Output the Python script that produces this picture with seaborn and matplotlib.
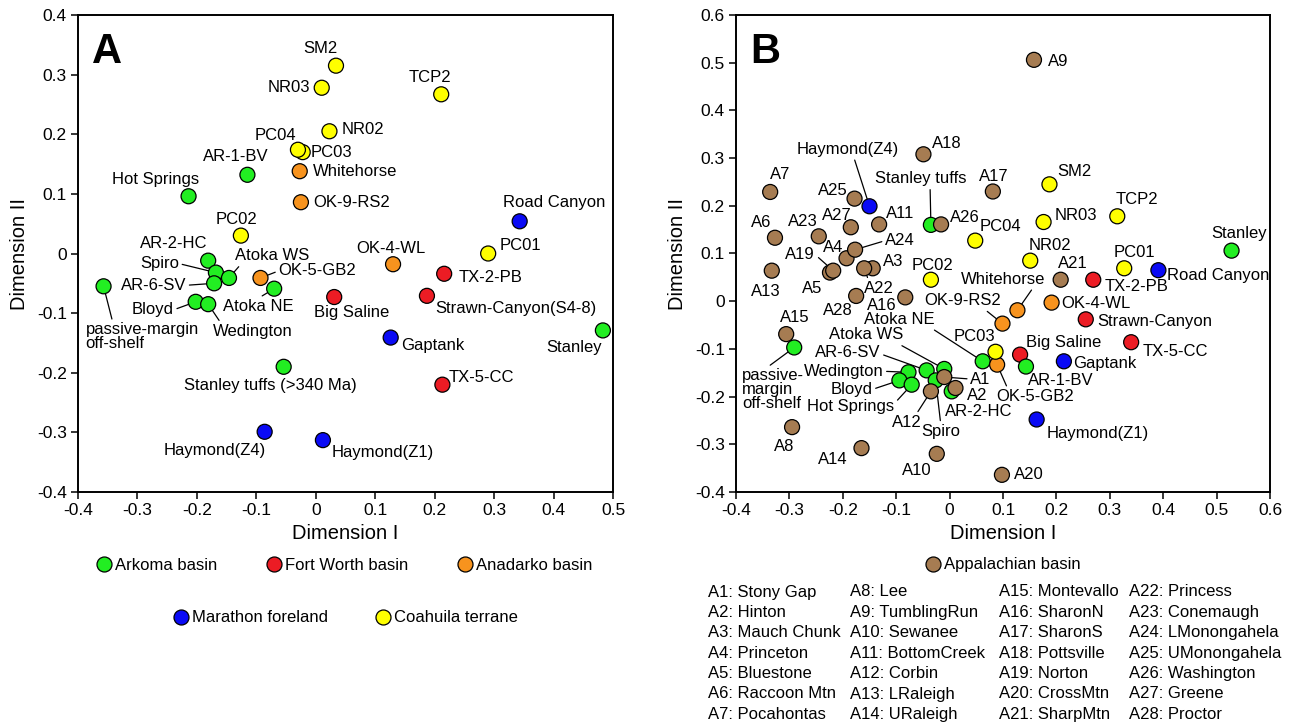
import matplotlib
matplotlib.use("Agg")
import matplotlib.pyplot as plt
import matplotlib.ticker as mticker
from matplotlib.lines import Line2D
import pandas as pd
import seaborn as sns

# ---------------- groups ----------------
group_names = ["Arkoma basin", "Fort Worth basin", "Anadarko basin",
               "Marathon foreland", "Coahuila terrane", "Appalachian basin"]
group_colors = ["#22EE22", "#EC1C24", "#F7931E", "#0A0AF5", "#FFFF00", "#A67C52"]

# ---------------- panel A data ----------------
a_names = ["SM2", "NR03", "TCP2", "NR02", "PC03", "PC04", "Whitehorse", "OK-9-RS2",
           "AR-1-BV", "Hot Springs", "PC02", "Road Canyon", "PC01", "AR-2-HC", "Spiro",
           "Atoka WS", "AR-6-SV", "OK-5-GB2", "Atoka NE", "passive-margin\noff-shelf",
           "Bloyd", "Wedington", "Big Saline", "Stanley tuffs (>340 Ma)", "Haymond(Z4)",
           "Haymond(Z1)", "OK-4-WL", "TX-2-PB", "Strawn-Canyon(S4-8)", "Gaptank",
           "TX-5-CC", "Stanley"]
a_x = [0.034, 0.010, 0.211, 0.023, -0.022, -0.030, -0.027, -0.025,
       -0.115, -0.214, -0.126, 0.343, 0.290, -0.181, -0.168,
       -0.146, -0.171, -0.093, -0.070, -0.357,
       -0.202, -0.181, 0.031, -0.054, -0.086,
       0.012, 0.130, 0.216, 0.187, 0.126,
       0.213, 0.483]
a_y = [0.315, 0.278, 0.267, 0.205, 0.170, 0.174, 0.138, 0.086,
       0.132, 0.096, 0.030, 0.054, 0.000, -0.012, -0.032,
       -0.041, -0.050, -0.041, -0.059, -0.055,
       -0.081, -0.085, -0.073, -0.190, -0.299,
       -0.313, -0.018, -0.034, -0.071, -0.141,
       -0.220, -0.129]
a_group = ["Coahuila terrane", "Coahuila terrane", "Coahuila terrane", "Coahuila terrane",
           "Coahuila terrane", "Coahuila terrane", "Anadarko basin", "Anadarko basin",
           "Arkoma basin", "Arkoma basin", "Coahuila terrane", "Marathon foreland",
           "Coahuila terrane", "Arkoma basin", "Arkoma basin",
           "Arkoma basin", "Arkoma basin", "Anadarko basin", "Arkoma basin", "Arkoma basin",
           "Arkoma basin", "Arkoma basin", "Fort Worth basin", "Arkoma basin",
           "Marathon foreland", "Marathon foreland", "Anadarko basin", "Fort Worth basin",
           "Fort Worth basin", "Marathon foreland", "Fort Worth basin", "Arkoma basin"]

# ---------------- panel B data ----------------
b_names = ["Haymond(Z4)", "Stanley tuffs", "SM2", "NR03", "TCP2", "PC04", "Stanley",
           "PC02", "NR02", "PC01", "Road Canyon", "TX-2-PB", "Whitehorse", "OK-4-WL",
           "OK-9-RS2", "Strawn-Canyon", "TX-5-CC", "Atoka NE", "OK-5-GB2", "PC03",
           "Big Saline", "AR-1-BV", "Gaptank", "Atoka WS", "AR-6-SV", "Wedington",
           "Bloyd", "Hot Springs", "Spiro", "AR-2-HC", "Haymond(Z1)",
           "passive-\nmargin\noff-shelf",
           "A1", "A2", "A3", "A4", "A5", "A6", "A7", "A8", "A9", "A10", "A11", "A12",
           "A13", "A14", "A15", "A16", "A17", "A18", "A19", "A20", "A21", "A22", "A23",
           "A24", "A25", "A26", "A27", "A28"]
b_x = [-0.150, -0.035, 0.187, 0.176, 0.314, 0.048, 0.528,
       -0.035, 0.151, 0.327, 0.391, 0.269, 0.127, 0.191,
       0.099, 0.255, 0.340, 0.062, 0.089, 0.086,
       0.132, 0.143, 0.214, -0.010, -0.043, -0.077,
       -0.094, -0.071, -0.026, 0.004, 0.163,
       -0.291,
       -0.010, 0.011, -0.144, -0.193, -0.224, -0.327, -0.336, -0.295, 0.158, -0.024,
       -0.132, -0.035, -0.333, -0.165, -0.306, -0.083, 0.081, -0.049, -0.218, 0.098,
       0.208, -0.160, -0.245, -0.177, -0.178, -0.016, -0.185, -0.175]
b_y = [0.199, 0.160, 0.245, 0.166, 0.178, 0.127, 0.106,
       0.045, 0.085, 0.069, 0.065, 0.045, -0.019, -0.003,
       -0.047, -0.038, -0.086, -0.126, -0.133, -0.106,
       -0.112, -0.137, -0.126, -0.142, -0.145, -0.149,
       -0.166, -0.175, -0.166, -0.189, -0.248,
       -0.097,
       -0.159, -0.182, 0.069, 0.090, 0.060, 0.133, 0.229, -0.264, 0.506, -0.320,
       0.161, -0.189, 0.064, -0.308, -0.069, 0.008, 0.230, 0.308, 0.064, -0.364,
       0.045, 0.069, 0.136, 0.108, 0.215, 0.161, 0.155, 0.011]
b_group = (["Marathon foreland", "Arkoma basin", "Coahuila terrane", "Coahuila terrane",
            "Coahuila terrane", "Coahuila terrane", "Arkoma basin",
            "Coahuila terrane", "Coahuila terrane", "Coahuila terrane", "Marathon foreland",
            "Fort Worth basin", "Anadarko basin", "Anadarko basin",
            "Anadarko basin", "Fort Worth basin", "Fort Worth basin", "Arkoma basin",
            "Anadarko basin", "Coahuila terrane",
            "Fort Worth basin", "Arkoma basin", "Marathon foreland", "Arkoma basin",
            "Arkoma basin", "Arkoma basin",
            "Arkoma basin", "Arkoma basin", "Arkoma basin", "Arkoma basin",
            "Marathon foreland", "Arkoma basin"]
           + ["Appalachian basin"] * 28)

appalachian_sites = ["Stony Gap", "Hinton", "Mauch Chunk", "Princeton", "Bluestone",
                     "Raccoon Mtn", "Pocahontas", "Lee", "TumblingRun", "Sewanee",
                     "BottomCreek", "Corbin", "LRaleigh", "URaleigh", "Montevallo",
                     "SharonN", "SharonS", "Pottsville", "Norton", "CrossMtn",
                     "SharpMtn", "Princess", "Conemaugh", "LMonongahela",
                     "UMonongahela", "Washington", "Greene", "Proctor"]

# ---------------- label placement (offset pixels, alignment, leader-line anchor) ----------------
C, L, R = "center", "left", "right"
a_labels = {
    "SM2": (-16, 17, C, C, None), "NR03": (-12, 0, R, C, None),
    "TCP2": (-11, 17, C, C, None), "NR02": (12, 2, L, C, None),
    "PC03": (8, 0, L, C, None), "PC04": (-23, 14, C, C, None),
    "Whitehorse": (13, 0, L, C, None), "OK-9-RS2": (12, 0, L, C, None),
    "AR-1-BV": (-12, 18, C, C, None), "Hot Springs": (-33, 17, C, C, None),
    "PC02": (-4, 16, C, C, None), "Road Canyon": (35, 19, C, C, None),
    "PC01": (11, 8, L, C, None), "AR-2-HC": (-34, 17, C, C, None),
    "Spiro": (-37, 9, R, C, (1, 0.5)), "Atoka WS": (43, 22, C, C, (0.09, 0)),
    "AR-6-SV": (-28, -2, R, C, (1, 0.5)), "OK-5-GB2": (18, 7, L, C, (0, 0.5)),
    "Atoka NE": (-16, -18, C, C, (0.48, 1)),
    "passive-margin\noff-shelf": (-18, -36, L, "top", (0.24, 1)),
    "Bloyd": (-22, -8, R, C, (1, 0.5)), "Wedington": (45, -27, C, C, (0.1, 1)),
    "Big Saline": (17, -15, C, C, None),
    "Stanley tuffs (>340 Ma)": (-13, -19, C, C, None),
    "Haymond(Z4)": (-50, -19, C, C, None), "Haymond(Z1)": (9, -12, L, C, None),
    "OK-4-WL": (-2, 16, C, C, None), "TX-2-PB": (14, -4, L, C, None),
    "Strawn-Canyon(S4-8)": (8, -13, L, C, None), "Gaptank": (10, -8, L, C, None),
    "TX-5-CC": (6, 7, L, C, None), "Stanley": (-29, -17, C, C, None),
}
b_labels = {
    "A1": (26, -2, L, C, (0, 0.5)), "A2": (11, -7, L, C, None), "A3": (10, 7, L, C, None),
    "A4": (-13, 11, C, C, None), "A5": (-18, -16, C, C, None), "A6": (-14, 15, C, C, None),
    "A7": (10, 17, C, C, None), "A8": (-8, -19, C, C, None), "A9": (14, -2, L, C, None),
    "A10": (-20, -17, C, C, None), "A11": (7, 11, L, C, None),
    "A12": (-24, -31, C, C, (0.8, 1)), "A13": (-6, -21, C, C, None),
    "A14": (-29, -11, C, C, None), "A15": (9, 17, C, C, None),
    "A16": (-23, -8, C, C, None), "A17": (1, 15, C, C, None), "A18": (9, 11, L, C, None),
    "A19": (-18, 16, R, C, (1, 0.5)), "A20": (12, 0, L, C, None),
    "A21": (12, 16, C, C, None), "A22": (15, -20, C, C, (0.15, 1)),
    "A23": (-16, 15, C, C, None), "A24": (30, 9, L, C, (0, 0.5)),
    "A25": (-22, 8, C, C, None), "A26": (9, 7, L, C, None),
    "A27": (-14, 12, C, C, None), "A28": (-18, -15, C, C, None),
    "Haymond(Z4)": (-22, 57, C, C, (0.56, 0)), "Stanley tuffs": (-10, 46, C, C, (0.6, 0)),
    "SM2": (8, 13, L, C, None), "NR03": (11, 7, L, C, None), "TCP2": (20, 17, C, C, None),
    "PC04": (25, 14, C, C, None), "Stanley": (8, 17, C, C, None),
    "PC02": (2, 14, C, C, None), "NR02": (20, 15, C, C, None), "PC01": (10, 16, C, C, None),
    "Road Canyon": (9, -5, L, C, None), "TX-2-PB": (11, -7, L, C, None),
    "Whitehorse": (-14, 31, C, C, (0.86, 0)), "OK-4-WL": (10, -1, L, C, None),
    "OK-9-RS2": (-40, 23, C, C, (0.77, 0)), "Strawn-Canyon": (12, -2, L, C, None),
    "TX-5-CC": (11, -9, L, C, None), "PC03": (-21, 15, C, C, None),
    "Big Saline": (44, 12, C, C, None), "Atoka NE": (-83, 42, C, C, (0.92, 0)),
    "OK-5-GB2": (38, -32, C, C, (0.15, 1)), "AR-1-BV": (35, -14, C, C, (0.02, 1)),
    "Gaptank": (9, -2, L, C, None), "Atoka WS": (-78, 34, C, C, (0.9, 0)),
    "AR-6-SV": (-79, 18, C, C, (1, 0.4)), "Wedington": (-65, 1, C, C, (1, 0.5)),
    "Bloyd": (-48, -9, C, C, (1, 0.5)), "Hot Springs": (-61, -22, C, C, (1, 0.7)),
    "Spiro": (5, -51, C, C, (0.5, 1)), "AR-2-HC": (-7, -20, L, C, None),
    "Haymond(Z1)": (10, -14, L, C, None),
    "passive-\nmargin\noff-shelf": (-52, -21, L, "top", (0.38, 1)),
}

# ---------------- style ----------------
sns.set_theme(style="ticks")
plt.rcParams["font.family"] = ["Liberation Sans", "DejaVu Sans"]
plt.rcParams["axes.unicode_minus"] = False
for key in ["text.color", "axes.labelcolor", "xtick.color", "ytick.color",
            "axes.edgecolor"]:
    plt.rcParams[key] = "black"

palette = dict(zip(group_names, group_colors))
MS = 10.8  # marker diameter (pt)

fig = plt.figure(figsize=(13.01, 7.26), dpi=100)
ax_a = fig.add_axes([78 / 1301, 1 - 492 / 726, 535 / 1301, 477 / 726])
ax_b = fig.add_axes([736 / 1301, 1 - 492 / 726, 534 / 1301, 477 / 726])


def fmt(v, _pos):
    if abs(v) < 1e-9:
        return "0"
    return f"{v:.1f}"


def draw_panel(ax, names, xs, ys, groups, labels, letter, xlim, ylim):
    df = pd.DataFrame({"x": xs, "y": ys, "group": groups})
    sns.scatterplot(data=df, x="x", y="y", hue="group", palette=palette, s=MS ** 2,
                    edgecolor="black", linewidth=0.9, legend=False, ax=ax, zorder=4)
    for n, x, y in zip(names, xs, ys):
        dx, dy, ha, va, rel = labels[n]
        kw = {}
        if rel is not None:
            kw["arrowprops"] = dict(arrowstyle="-", color="black", lw=0.9,
                                    shrinkA=0, shrinkB=0, relpos=rel)
        ax.annotate(n, (x, y), xytext=(dx, dy), textcoords="offset pixels",
                    ha=ha, va=va, fontsize=12, zorder=3, linespacing=0.9,
                    multialignment="left", color="black", **kw)
    ax.set_xlim(*xlim)
    ax.set_ylim(*ylim)
    ax.xaxis.set_major_locator(mticker.MultipleLocator(0.1))
    ax.yaxis.set_major_locator(mticker.MultipleLocator(0.1))
    ax.xaxis.set_major_formatter(mticker.FuncFormatter(fmt))
    ax.yaxis.set_major_formatter(mticker.FuncFormatter(fmt))
    ax.tick_params(direction="out", length=5, width=1.1, labelsize=12.5,
                   colors="black", pad=3)
    for sp in ax.spines.values():
        sp.set_visible(True)
        sp.set_linewidth(1.4)
        sp.set_color("black")
    ax.set_xlabel("Dimension I", fontsize=14.5, labelpad=4, color="black")
    ax.set_ylabel("Dimension II", fontsize=14.5, labelpad=6, color="black")
    ax.text(0.027, 0.90, letter, transform=ax.transAxes, fontsize=30,
            fontweight="bold", ha="left", va="baseline", color="black")


draw_panel(ax_a, a_names, a_x, a_y, a_group, a_labels, "A", (-0.4, 0.5), (-0.4, 0.4))
draw_panel(ax_b, b_names, b_x, b_y, b_group, b_labels, "B", (-0.4, 0.6), (-0.4, 0.6))


def handle(g):
    return Line2D([], [], marker="o", ls="", markersize=MS,
                  markerfacecolor=palette[g], markeredgecolor="black",
                  markeredgewidth=0.9)


leg_kw = dict(loc="center", frameon=False, fontsize=12, handletextpad=0.15,
              handlelength=1.0, borderaxespad=0, borderpad=0, labelcolor="black")
row1 = group_names[:3]
row2 = group_names[3:5]
leg1 = ax_a.legend([handle(g) for g in row1], row1, ncol=3, columnspacing=2.9,
                   bbox_to_anchor=(0.497, (492 - 565) / 477), **leg_kw)
ax_a.add_artist(leg1)
ax_a.legend([handle(g) for g in row2], row2, ncol=2, columnspacing=2.8,
            bbox_to_anchor=(0.5, (492 - 618) / 477), **leg_kw)
ax_b.legend([handle(group_names[5])], [group_names[5]],
            bbox_to_anchor=(0.5, (492 - 565) / 477), **leg_kw)

# appendix table of Appalachian sites
col_x = [708, 850, 999, 1129]
for i, site in enumerate(appalachian_sites):
    col, row = divmod(i, 7)
    fig.text(col_x[col] / 1301, 1 - (592 + 20.4 * row) / 726, f"A{i + 1}: {site}",
             fontsize=12, ha="left", va="center", color="black")

fig.savefig("out.png", dpi=100)
